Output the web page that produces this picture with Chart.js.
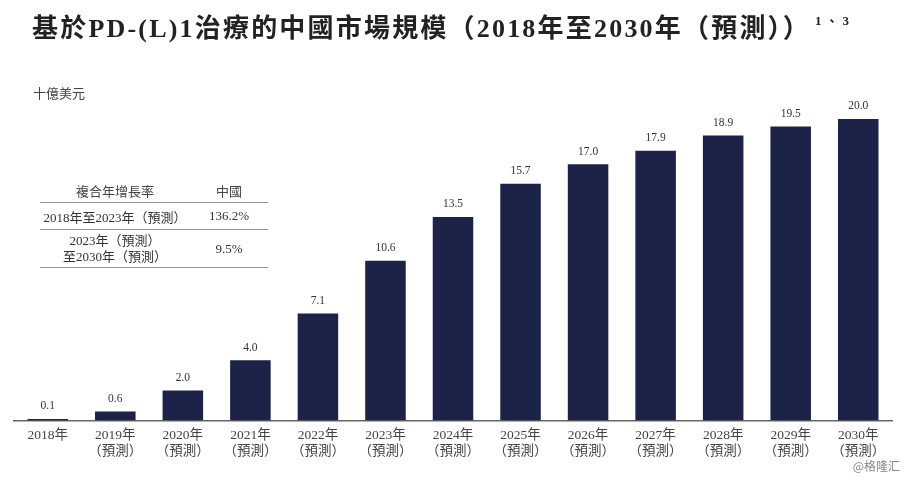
<!DOCTYPE html>
<html>
<head>
<meta charset="utf-8">
<script src="https://cdn.jsdelivr.net/npm/chart.js@4.4.0/dist/chart.umd.min.js"></script>
<style>
	body { margin: 0; background: #fff; }
	#wrap { position: relative; width: 906px; height: 480px; overflow: hidden;
		font-family: "Liberation Serif", "Noto Sans CJK TC", serif; color: #333; }
	#chart { position: absolute; left: 0; top: 0; }
	.title { position: absolute; left: 32px; top: 7px; font-size: 26px; font-weight: bold; color: #222; white-space: nowrap; letter-spacing: 2.2px; }
	.title sup { font-size: 13px; vertical-align: 12px; margin-left: 4px; letter-spacing: 4px; }
	.unit { position: absolute; left: 33px; top: 83px; font-size: 13px; color: #444; }
	.tbl { position: absolute; left: 40px; top: 179px; width: 228px; font-size: 13px; color: #333; border-collapse: collapse; }
	.tbl td { text-align: center; padding: 0; }
	.tbl tr.head td { height: 23px; border-bottom: 1.5px solid #999; color: #444; }
	.tbl tr.r1 td { height: 26px; border-bottom: 1.5px solid #999; }
	.tbl tr.r2 td { height: 37px; border-bottom: 1.5px solid #999; line-height: 16px; }
	.wm { position: absolute; right: 6px; top: 457px; font-size: 12px; color: #888; font-family: "Noto Sans CJK SC", sans-serif; }
</style>
</head>
<body>
<div id="wrap">
	<canvas id="chart" width="906" height="480"></canvas>
	<div class="title">基於PD-(L)1治療的中國市場規模（2018年至2030年（預測））<sup>1、3</sup></div>
	<div class="unit">十億美元</div>
	<table class="tbl">
		<tr class="head"><td style="width:150px">複合年增長率</td><td>中國</td></tr>
		<tr class="r1"><td>2018年至2023年（預測）</td><td>136.2%</td></tr>
		<tr class="r2"><td>2023年（預測）<br>至2030年（預測）</td><td>9.5%</td></tr>
	</table>
	<div class="wm">@格隆汇</div>
</div>
<script>
const years = ['2018年', '2019年', '2020年', '2021年', '2022年', '2023年', '2024年', '2025年', '2026年', '2027年', '2028年', '2029年', '2030年'];
const forecast = [false, true, true, true, true, true, true, true, true, true, true, true, true];
const marketSize = [0.1, 0.6, 2.0, 4.0, 7.1, 10.6, 13.5, 15.7, 17.0, 17.9, 18.9, 19.5, 20.0];

const labels = years.map((y, i) => forecast[i] ? [y, '（預測）'] : [y]);

// value labels above each bar
const valueLabels = {
	id: 'valueLabels',
	afterDatasetsDraw(chart) {
		const ctx = chart.ctx;
		const meta = chart.getDatasetMeta(0);
		ctx.save();
		ctx.font = '11.5px "Liberation Serif", serif';
		ctx.fillStyle = '#333';
		ctx.textAlign = 'center';
		ctx.textBaseline = 'bottom';
		meta.data.forEach((bar, i) => {
			ctx.fillText(marketSize[i].toFixed(1), bar.x, bar.y - 7);
		});
		ctx.restore();
	}
};

new Chart(document.getElementById('chart'), {
	type: 'bar',
	data: {
		labels: labels,
		datasets: [{
			data: marketSize,
			backgroundColor: '#1c2248',
			categoryPercentage: 1,
			barPercentage: 0.6
		}]
	},
	options: {
		responsive: false,
		animation: false,
		layout: { padding: { left: 14, right: 14, top: 100, bottom: 13 } },
		plugins: { legend: { display: false }, tooltip: { enabled: false } },
		scales: {
			x: {
				grid: { display: false, drawTicks: false },
				border: { color: '#666', width: 1.5 },
				ticks: {
					color: '#444',
					padding: 7,
					maxRotation: 0,
					autoSkip: false,
					font: { family: '"Liberation Serif", "Noto Sans CJK TC", serif', size: 13.5, lineHeight: 1.2 }
				}
			},
			y: {
				display: false,
				min: 0,
				max: 21.26
			}
		}
	},
	plugins: [valueLabels]
});
</script>
</body>
</html>
